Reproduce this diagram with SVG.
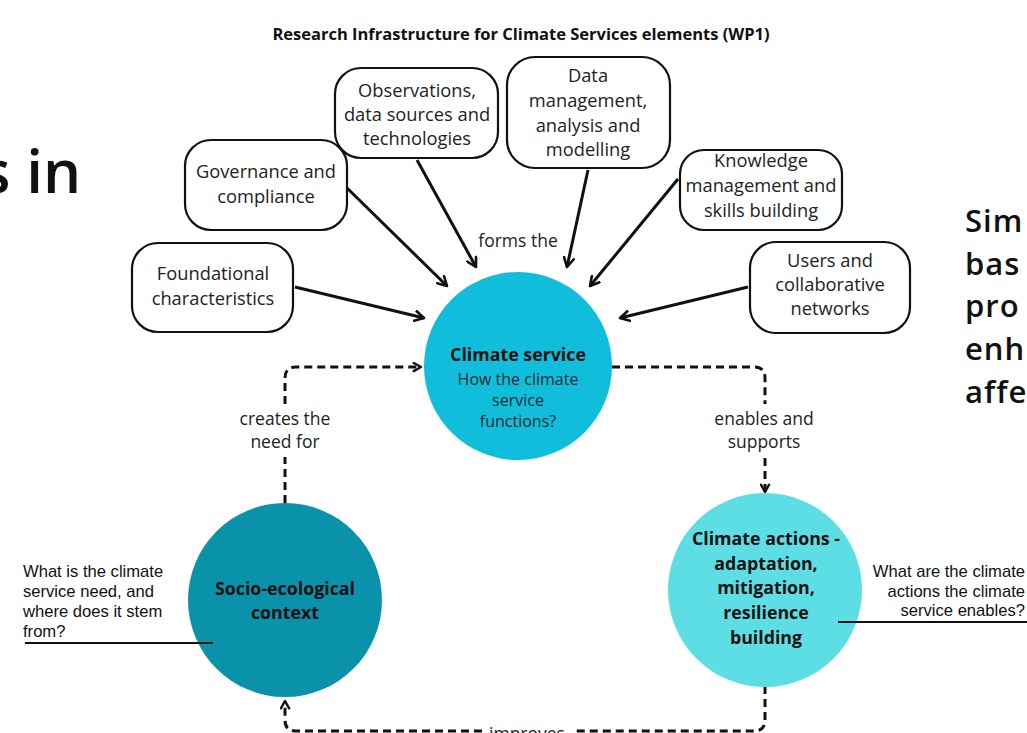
<svg xmlns="http://www.w3.org/2000/svg" width="1027" height="733" viewBox="0 0 1027 733">
<style>
.box{fill:#fff;stroke:#111;stroke-width:2.2}
.bt{font-family:"Open Sans","Noto Sans",sans-serif;font-size:18.3px;fill:#222;text-anchor:middle}
.lbl{font-family:"Open Sans","Noto Sans",sans-serif;font-size:17.5px;fill:#222;text-anchor:middle}
.cb{font-family:"Open Sans","Noto Sans",sans-serif;font-size:17.8px;font-weight:700;fill:#111;text-anchor:middle}
.cr{font-family:"Open Sans","Noto Sans",sans-serif;font-size:16px;fill:#1d2b33;text-anchor:middle}
.ann{font-family:"Liberation Sans",Arial,sans-serif;font-size:16.6px;fill:#111}
.arr{fill:none;stroke:#111;stroke-width:3;marker-end:url(#ah)}
.dash{fill:none;stroke:#111;stroke-width:3;stroke-dasharray:8 5}
.big{font-family:"Open Sans","Noto Sans",sans-serif;font-weight:600;fill:#111}
</style>
<defs>
<marker id="ah" viewBox="0 0 12 12" refX="10" refY="6" markerWidth="12" markerHeight="12" markerUnits="userSpaceOnUse" orient="auto">
<path d="M1,1 L10,6 L1,11" fill="none" stroke="#111" stroke-width="2.6" stroke-linecap="round" stroke-linejoin="round"/>
</marker>
<marker id="ahd" viewBox="0 0 12 12" refX="10" refY="6" markerWidth="11" markerHeight="11" markerUnits="userSpaceOnUse" orient="auto">
<path d="M2,1.5 L10,6 L2,10.5" fill="none" stroke="#111" stroke-width="2.6" stroke-linecap="round" stroke-linejoin="round"/>
</marker>
</defs>
<rect width="1027" height="733" fill="#fff"/>

<text x="521" y="40" font-family="'Open Sans','Noto Sans',sans-serif" font-size="16.5" font-weight="700" fill="#111" text-anchor="middle">Research Infrastructure for Climate Services elements (WP1)</text>

<text class="big" x="81" y="193" font-size="60" text-anchor="end">s in</text>
<g class="big" font-size="31" letter-spacing="1">
<text x="965" y="232">Sim</text>
<text x="965" y="275">bas</text>
<text x="965" y="317">pro</text>
<text x="965" y="360">enh</text>
<text x="965" y="403">affe</text>
</g>

<g id="connectors">
<line class="arr" x1="295" y1="287" x2="424" y2="318"/>
<line class="arr" x1="347" y1="188" x2="447" y2="286"/>
<line class="arr" x1="417" y1="160" x2="476" y2="267"/>
<line class="arr" x1="588" y1="170" x2="567" y2="267"/>
<line class="arr" x1="678" y1="179" x2="590" y2="286"/>
<line class="arr" x1="748" y1="287" x2="620" y2="318"/>
<text class="lbl" x="518" y="247">forms the</text>

<path class="dash" d="M285,503 V457"/>
<path class="dash" d="M285,404 V378 Q285,367 296,367 H421" marker-end="url(#ahd)"/>
<text class="lbl" x="285" y="425">creates the</text>
<text class="lbl" x="285" y="448">need for</text>

<path class="dash" d="M612,367 H754 Q765,367 765,378 V404"/>
<path class="dash" d="M765,458 V492" marker-end="url(#ahd)"/>
<text class="lbl" x="764" y="425">enables and</text>
<text class="lbl" x="764" y="448">supports</text>

<path class="dash" d="M765,686 V720 Q765,731 754,731 H572"/>
<path class="dash" d="M482,731 H296 Q285,731 285,720 V701" marker-end="url(#ahd)"/>
<text class="lbl" x="527" y="740">improves</text>
</g>

<g id="climate-service">
<circle cx="518" cy="366" r="94" fill="#10bddb"/>
<text class="cb" x="518" y="361">Climate service</text>
<text class="cr" x="518" y="385">How the climate</text>
<text class="cr" x="518" y="406">service</text>
<text class="cr" x="518" y="427">functions?</text>
</g>

<g id="socio-ecological">
<circle cx="285" cy="600" r="97" fill="#0a92aa"/>
<text class="cb" x="285" y="595" font-size="19">Socio-ecological</text>
<text class="cb" x="285" y="619" font-size="19">context</text>
</g>

<g id="climate-actions">
<circle cx="765" cy="590" r="97" fill="#5cdee4"/>
<text class="cb" x="766" y="545">Climate actions -</text>
<text class="cb" x="766" y="570">adaptation,</text>
<text class="cb" x="766" y="594">mitigation,</text>
<text class="cb" x="766" y="619">resilience</text>
<text class="cb" x="766" y="644">building</text>
</g>

<g id="note-left">
<text class="ann" x="23" y="577">What is the climate</text>
<text class="ann" x="23" y="597">service need, and</text>
<text class="ann" x="23" y="617">where does it stem</text>
<text class="ann" x="23" y="637">from?</text>
<line x1="25" y1="643" x2="213" y2="643" stroke="#111" stroke-width="2"/>
</g>

<g id="note-right">
<text class="ann" x="1025" y="577" text-anchor="end">What are the climate</text>
<text class="ann" x="1025" y="597" text-anchor="end">actions the climate</text>
<text class="ann" x="1025" y="616" text-anchor="end">service enables?</text>
<line x1="838" y1="622" x2="1027" y2="622" stroke="#111" stroke-width="2"/>
</g>

<g id="foundational">
<rect class="box" x="132" y="243" width="161" height="89" rx="26"/>
<text class="bt" x="213" y="280">Foundational</text>
<text class="bt" x="213" y="305">characteristics</text>
</g>
<g id="governance">
<rect class="box" x="185" y="140" width="162" height="90" rx="26"/>
<text class="bt" x="266" y="178">Governance and</text>
<text class="bt" x="266" y="203">compliance</text>
</g>
<g id="observations">
<rect class="box" x="335" y="68" width="163" height="90" rx="26"/>
<text class="bt" x="417" y="97">Observations,</text>
<text class="bt" x="417" y="121">data sources and</text>
<text class="bt" x="417" y="145">technologies</text>
</g>
<g id="data-management">
<rect class="box" x="507" y="57" width="163" height="111" rx="28"/>
<text class="bt" x="588" y="82">Data</text>
<text class="bt" x="588" y="107">management,</text>
<text class="bt" x="588" y="132">analysis and</text>
<text class="bt" x="588" y="156">modelling</text>
</g>
<g id="knowledge">
<rect class="box" x="680" y="150" width="162" height="80" rx="24"/>
<text class="bt" x="761" y="167">Knowledge</text>
<text class="bt" x="761" y="192">management and</text>
<text class="bt" x="761" y="217">skills building</text>
</g>
<g id="users">
<rect class="box" x="750" y="242" width="160" height="91" rx="26"/>
<text class="bt" x="830" y="267">Users and</text>
<text class="bt" x="830" y="291">collaborative</text>
<text class="bt" x="830" y="315">networks</text>
</g>
</svg>
